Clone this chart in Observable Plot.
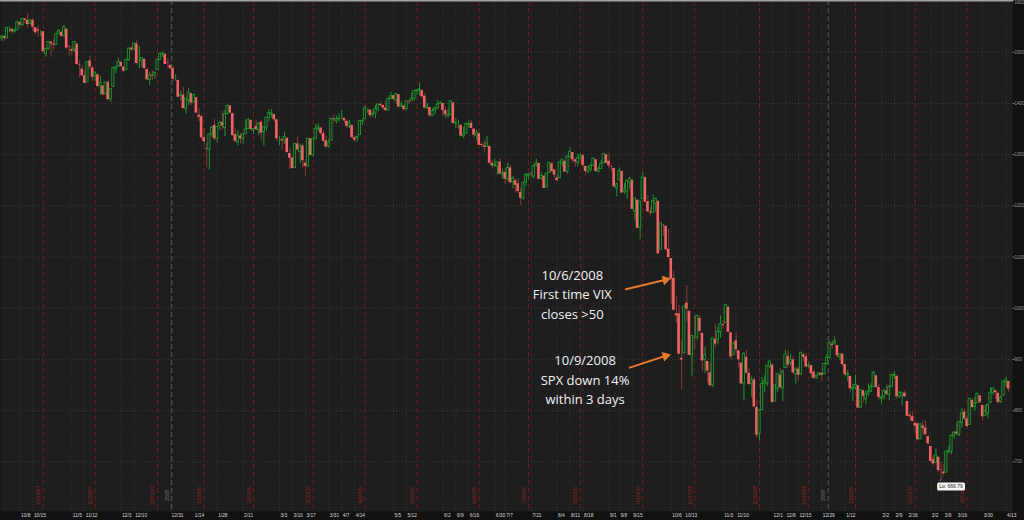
<!DOCTYPE html>
<html><head><meta charset="utf-8">
<script src="https://cdn.jsdelivr.net/npm/d3@7"></script>
<script src="https://cdn.jsdelivr.net/npm/@observablehq/plot@0.6"></script>
<style>
html,body{margin:0;padding:0;background:#111;}
#chart{width:1024px;height:520px;overflow:hidden;}
</style>
</head><body><div id="chart"></div>
<script>
// ---------- DATA (S&P 500 daily candles, [open, high, low, close]) ----------
const firstDay = "2007-09-27";
const holidays = ["2007-11-22","2007-12-25","2008-01-01","2008-01-21","2008-02-18","2008-03-21","2008-05-26","2008-07-04","2008-09-01","2008-11-27","2008-12-25","2009-01-01","2009-01-19","2009-02-16","2009-04-10"];

const q4_2007 = [
[1527,1532,1521,1531],[1531,1533,1521,1527],
[1527,1549,1527,1547],[1547,1549,1538,1547],[1545,1545,1534,1540],[1540,1545,1537,1543],[1543,1561,1543,1558],
[1558,1558,1547,1553],[1553,1565,1551,1565],[1565,1566,1555,1562],[1562,1576,1546,1554],[1555,1563,1554,1562],
[1562,1565,1540,1549],[1548,1548,1534,1538],[1544,1551,1529,1541],[1540,1542,1531,1540],[1540,1540,1500,1501],
[1497,1508,1490,1506],[1506,1520,1504,1520],[1520,1520,1490,1516],[1516,1524,1503,1514],[1514,1535,1514,1535],
[1536,1544,1536,1541],[1539,1539,1529,1531],[1532,1553,1529,1549],
[1545,1545,1506,1508],[1511,1513,1492,1510],
[1505,1510,1495,1502],[1505,1521,1499,1520],[1516,1516,1475,1476],[1476,1483,1450,1475],[1467,1474,1453,1454],
[1454,1465,1439,1439],[1441,1481,1441,1481],[1483,1492,1466,1471],[1469,1473,1443,1451],[1453,1462,1443,1459],
[1456,1456,1430,1433],[1434,1453,1416,1440],[1434,1434,1415,1417],[1418,1441,1418,1441],
[1441,1446,1407,1407],[1409,1429,1402,1428],[1432,1471,1432,1469],[1467,1473,1458,1470],[1472,1488,1470,1481],
[1480,1482,1469,1472],[1471,1471,1460,1463],[1465,1486,1465,1485],[1485,1508,1482,1507],[1508,1510,1501,1505],
[1505,1518,1504,1516],[1516,1523,1475,1478],[1487,1511,1468,1487],[1483,1489,1470,1488],[1486,1486,1467,1468],
[1466,1468,1445,1446],[1446,1461,1435,1455],[1455,1464,1445,1453],[1456,1461,1447,1460],[1465,1485,1465,1485],
[1485,1497,1485,1496],[1495,1499,1489,1498],[1496,1496,1476,1476],[1480,1488,1469,1479],
[1474,1475,1466,1468]
];
const q1_2008 = [
[1468,1472,1442,1447],[1447,1456,1444,1447],[1445,1445,1411,1412],
[1415,1424,1405,1416],[1416,1431,1389,1390],[1390,1409,1379,1409],[1406,1429,1396,1420],[1419,1419,1395,1401],
[1402,1418,1402,1416],[1411,1411,1381,1381],[1377,1391,1364,1373],[1374,1378,1330,1333],[1333,1351,1319,1325],
[1312,1322,1274,1311],[1310,1339,1270,1339],[1340,1355,1334,1352],[1357,1369,1327,1331],
[1331,1354,1322,1354],[1356,1365,1347,1362],[1363,1385,1348,1356],[1352,1386,1335,1379],
[1379,1397,1378,1395],
[1395,1396,1380,1381],[1380,1381,1336,1337],[1339,1352,1324,1326],[1324,1347,1317,1337],[1336,1341,1321,1331],
[1331,1341,1320,1339],[1340,1368,1339,1349],[1350,1371,1350,1367],[1367,1368,1347,1349],[1347,1351,1339,1350],
[1355,1368,1347,1349],[1348,1363,1337,1360],[1363,1367,1327,1342],[1344,1354,1316,1353],
[1353,1372,1346,1372],[1372,1388,1364,1381],[1378,1388,1371,1380],[1378,1378,1363,1368],[1368,1368,1326,1331],
[1331,1335,1317,1331],[1329,1331,1309,1327],[1327,1344,1320,1334],[1332,1332,1303,1304],[1302,1313,1271,1293],
[1293,1295,1272,1273],[1274,1321,1274,1321],[1321,1334,1307,1309],[1305,1321,1282,1316],[1317,1321,1274,1288],
[1283,1287,1257,1277],[1277,1331,1277,1331],[1331,1331,1298,1298],[1299,1330,1295,1330],
[1330,1359,1330,1350],[1350,1360,1345,1353],[1352,1352,1337,1341],[1341,1346,1324,1326],[1327,1336,1312,1315],
[1316,1329,1312,1323]
];
const q2_2008 = [
[1327,1370,1327,1370],[1370,1378,1361,1368],[1366,1375,1360,1369],[1369,1380,1363,1370],
[1373,1386,1369,1373],[1371,1371,1360,1366],[1365,1368,1350,1355],[1355,1367,1351,1361],[1357,1357,1331,1333],
[1333,1335,1324,1328],[1332,1337,1324,1334],[1338,1365,1338,1365],[1365,1369,1357,1366],[1369,1395,1369,1390],
[1388,1389,1381,1388],[1387,1387,1372,1376],[1378,1387,1372,1380],[1380,1396,1370,1389],[1388,1399,1383,1398],
[1398,1403,1394,1396],[1396,1397,1386,1391],[1391,1404,1384,1386],
[1386,1410,1386,1409],[1409,1422,1407,1414],
[1415,1415,1405,1408],[1406,1420,1398,1418],[1417,1417,1391,1393],[1394,1403,1392,1398],[1395,1396,1384,1388],
[1389,1405,1386,1404],[1404,1407,1397,1403],[1405,1420,1405,1409],[1409,1424,1405,1424],[1424,1426,1415,1425],
[1425,1440,1415,1427],[1425,1425,1409,1413],[1414,1420,1388,1391],[1391,1400,1387,1394],[1392,1392,1373,1376],
[1376,1389,1374,1385],[1387,1392,1378,1391],[1390,1406,1388,1398],[1399,1404,1398,1400],
[1400,1400,1375,1386],[1386,1393,1371,1378],[1376,1388,1371,1377],[1377,1405,1377,1404],[1401,1401,1360,1361],
[1361,1370,1351,1362],[1358,1367,1350,1358],[1357,1358,1334,1336],[1336,1353,1331,1340],[1341,1362,1341,1360],
[1358,1366,1351,1360],[1361,1366,1350,1351],[1350,1350,1333,1338],[1337,1348,1327,1343],[1341,1341,1317,1318],
[1320,1323,1316,1318],[1317,1327,1304,1314],[1315,1336,1315,1322],[1316,1316,1283,1283],[1283,1289,1272,1278],
[1278,1291,1275,1280]
];
const q3_2008 = [
[1276,1285,1260,1285],[1285,1292,1261,1262],[1262,1272,1252,1263],
[1265,1273,1241,1252],[1252,1283,1248,1274],[1274,1278,1244,1245],[1246,1257,1233,1253],[1249,1253,1225,1240],
[1243,1253,1225,1228],[1226,1234,1200,1215],[1215,1246,1211,1245],[1246,1263,1237,1260],[1258,1263,1251,1261],
[1262,1267,1256,1261],[1257,1280,1252,1277],[1278,1291,1276,1282],[1283,1283,1251,1252],[1253,1264,1250,1258],
[1258,1260,1234,1234],[1236,1263,1236,1263],[1264,1284,1263,1284],[1282,1285,1265,1267],
[1270,1270,1254,1260],
[1254,1260,1247,1249],[1254,1285,1254,1285],[1283,1292,1276,1289],[1287,1287,1265,1266],[1267,1297,1262,1296],
[1295,1313,1293,1305],[1304,1304,1285,1290],[1290,1292,1275,1286],[1284,1301,1276,1293],[1292,1302,1290,1298],
[1298,1300,1274,1279],[1277,1277,1260,1267],[1267,1277,1263,1275],[1271,1281,1266,1278],[1278,1294,1278,1292],
[1290,1290,1265,1267],[1267,1276,1264,1272],[1272,1289,1271,1282],[1283,1300,1283,1301],[1300,1300,1282,1283],
[1287,1303,1272,1278],[1276,1280,1266,1275],[1273,1273,1236,1237],[1234,1245,1217,1242],
[1250,1274,1247,1268],[1267,1268,1224,1225],[1227,1244,1222,1232],[1229,1249,1213,1249],[1245,1256,1233,1252],
[1250,1250,1193,1193],[1189,1214,1170,1214],[1211,1211,1156,1156],[1157,1211,1134,1207],[1213,1265,1213,1255],
[1255,1256,1207,1207],[1208,1220,1188,1188],[1188,1197,1180,1186],[1186,1221,1186,1209],[1204,1216,1187,1213],
[1209,1209,1106,1106],[1114,1166,1114,1166]
];
const q4_2008 = [
[1162,1164,1140,1161],[1160,1161,1112,1114],[1115,1154,1098,1099],
[1097,1097,1008,1057],[1058,1072,996,996],[989,1022,970,985],[989,1006,910,910],[902,936,840,899],
[912,1006,912,1003],[1010,1044,973,998],[994,994,907,908],[909,947,866,946],[942,984,918,941],
[943,986,937,985],[980,985,952,955],[951,951,876,897],[899,923,872,908],[896,896,853,877],
[874,893,846,849],[849,941,845,941],[939,969,922,930],[939,964,928,954],[953,985,941,969],
[968,976,959,966],[971,1007,971,1006],[1002,1003,952,953],[952,952,900,905],[908,932,908,931],
[936,952,911,919],[917,917,883,899],[893,893,852,852],[853,913,819,911],[904,917,872,873],
[873,882,849,851],[853,866,826,859],[860,865,806,807],[806,821,747,752],[755,801,741,800],
[801,865,801,852],[853,868,835,857],[853,888,847,888],[886,896,882,896],
[889,889,815,816],[818,850,818,849],[843,873,836,871],[869,882,841,845],[844,879,818,876],
[883,918,883,910],[906,917,883,889],[893,910,887,899],[899,905,871,874],[871,884,852,880],
[881,885,858,869],[871,914,869,913],[909,912,895,904],[905,912,884,885],[887,894,882,888],
[888,888,864,872],[875,880,860,863],[864,869,861,868],[870,873,867,873],
[873,874,857,869],[871,891,870,891],[891,910,889,903]
];
const q1_2009 = [
[903,935,900,932],
[930,936,920,927],[931,944,927,935],[927,927,902,907],[905,911,897,910],[910,912,887,890],
[890,890,865,870],[869,878,857,872],[867,867,836,843],[842,852,818,844],[845,869,840,850],
[849,849,805,805],[806,841,804,840],[839,839,815,828],[822,839,811,832],
[833,852,828,837],[837,852,835,846],[846,877,846,874],[868,868,844,845],[845,851,821,826],
[823,830,812,825],[826,842,821,838],[838,851,829,832],[831,850,819,846],[846,871,845,869],
[868,876,861,870],[867,869,822,827],[827,838,823,834],[829,835,809,835],[834,839,826,827],
[818,818,789,789],[791,797,781,788],[788,797,777,779],[775,779,754,770],
[774,777,743,743],[744,775,744,773],[770,780,752,765],[766,780,751,753],[749,752,734,735],
[730,730,700,701],[704,712,692,696],[698,725,698,713],[709,709,680,683],[684,699,666.79,683],
[680,695,672,677],[679,720,679,720],[719,731,715,721],[720,752,714,751],[751,759,744,757],
[758,775,752,754],[753,778,749,778],[776,804,766,794],[797,803,781,784],[784,788,766,769],
[772,823,772,823],[820,823,805,806],[807,826,799,814],[815,833,815,833],[829,829,814,816],
[810,810,780,788],[790,810,790,798]
];
const q2_2009 = [
[794,813,784,811],[815,845,815,834],[835,843,830,843],
[839,839,822,835],[834,834,813,816],[817,829,814,825],[829,857,829,857],
[855,865,846,859],[857,857,836,842]
];

const yTicks = [700,800,900,1000,1100,1200,1300,1400,1500];
const yTopTick = [1600];
const tickDates = ["2007-10-08","2007-10-15","2007-11-05","2007-11-12","2007-12-03","2007-12-10","2007-12-31","2008-01-14","2008-01-28","2008-02-11","2008-03-03","2008-03-10","2008-03-17","2008-03-31","2008-04-07","2008-04-14","2008-05-05","2008-05-12","2008-06-02","2008-06-09","2008-06-16","2008-06-30","2008-07-07","2008-07-21","2008-08-04","2008-08-11","2008-08-18","2008-09-01","2008-09-08","2008-09-15","2008-10-06","2008-10-13","2008-11-03","2008-11-10","2008-12-01","2008-12-08","2008-12-15","2008-12-29","2009-01-12","2009-02-02","2009-02-09","2009-02-16","2009-03-02","2009-03-09","2009-03-16","2009-03-30","2009-04-13"];
const tickLabels = ["10/8","10/15","11/5","11/12","12/3","12/10","12/31","1/14","1/28","2/11","3/3","3/10","3/17","3/31","4/7","4/14","5/5","5/12","6/2","6/9","6/16","6/30","7/7","7/21","8/4","8/11","8/18","9/1","9/8","9/15","10/6","10/13","11/3","11/10","12/1","12/8","12/15","12/29","1/12","2/2","2/9","2/16","3/2","3/9","3/16","3/30","4/13"];
const expirationDates = ["2007-10-19","2007-11-16","2007-12-21","2008-01-18","2008-02-15","2008-03-20","2008-04-18","2008-05-16","2008-06-20","2008-07-18","2008-08-15","2008-09-19","2008-10-17","2008-11-21","2008-12-19","2009-01-16","2009-02-20","2009-03-20"];
const yearStarts = ["2008-01-01","2009-01-01"];
const yearLabels = ["2008","2009"];
const notes = [
  {date:"2008-10-06", text:"10/6/2008\nFirst time VIX\ncloses >50"},
  {date:"2008-10-09", text:"10/9/2008\nSPX down 14%\nwithin 3 days"}
];

// ---------- BUILD ----------
const ohlc = [].concat(q4_2007, q1_2008, q2_2008, q3_2008, q4_2008, q1_2009, q2_2009);
const days = [];
{
  const d = new Date(firstDay + "T12:00:00Z");
  while (days.length < ohlc.length) {
    const dow = d.getUTCDay(), iso = d.toISOString().slice(0,10);
    if (dow !== 0 && dow !== 6 && !holidays.includes(iso)) days.push(iso);
    d.setUTCDate(d.getUTCDate() + 1);
  }
}
const idxOf = iso => days.findIndex(x => x >= iso);
const data = ohlc.map(([o,h,l,c], i) => ({i, date: days[i], o, h, l, c, up: c >= o}));
const ups = data.filter(d => d.up), downs = data.filter(d => !d.up);
const ticks = tickDates.map((t, k) => ({i: idxOf(t), label: tickLabels[k]}));
const exps = expirationDates.map(t => { const [y,m,dd] = t.split("-"); return {i: idxOf(t), label: `${+m}/${+dd}/${y.slice(2)}`}; });
const years = yearStarts.map((t, k) => ({i: idxOf(t) - 0.5, label: yearLabels[k]}));
const noteRows = notes.map(n => ({...data[idxOf(n.date)], text: n.text}));
const low = data.reduce((a, b) => b.l < a.l ? b : a);

const RED = "#f16262", RED_WICK = "#8a3a3a", GREEN = "#1f952d", BG = "#1e1e1e", ORANGE = "#e9792c";
const hw = 0.5;
const FONT = "Liberation Sans, Arial, sans-serif";

const chart = Plot.plot({
  width: 1024, height: 520,
  marginLeft: 0, marginRight: 12, marginTop: 0, marginBottom: 9,
  style: {background: "#111", color: "#9a9a9a", fontFamily: FONT, fontSize: "4.6px"},
  x: {domain: [-0.5, data.length + 0.5], axis: null},
  y: {domain: [603, 1601], axis: "right", ticks: yTicks, tickFormat: d => String(d), tickSize: 1.5, tickPadding: 0.5, label: null},
  marks: [
    Plot.frame({fill: BG}),
    Plot.ruleY(yTicks.concat(yTopTick), {stroke: "#3a3a3a", strokeDasharray: "1,2"}),
    Plot.ruleX(ticks, {x: "i", stroke: "#363636", strokeDasharray: "1,2"}),
    Plot.ruleX(exps, {x: "i", stroke: "#6a1d1d", strokeDasharray: "5,3"}),
    Plot.ruleX(years, {x: "i", stroke: "#5a5a5a", strokeDasharray: "5,3"}),
    Plot.text(exps, {x: "i", frameAnchor: "bottom", dx: -3, dy: -16, rotate: -90, text: "label", fill: "#8e2626", fontSize: 5}),
    Plot.text(years, {x: "i", frameAnchor: "bottom", dx: -3, dy: -16, rotate: -90, text: "label", fill: "#777", fontSize: 5}),
    Plot.ruleX(data, {x: "i", y1: "l", y2: "h", stroke: d => d.up ? GREEN : RED_WICK, strokeWidth: 1}),
    Plot.rect(downs, {x1: d => d.i - hw, x2: d => d.i + hw, y1: "o", y2: "c", fill: RED}),
    Plot.rect(ups, {x1: d => d.i - hw * 0.85, x2: d => d.i + hw * 0.85, y1: "o", y2: "c", fill: BG, stroke: GREEN, strokeWidth: 0.9}),
    Plot.text(ticks, {x: "i", frameAnchor: "bottom", dx: 1, dy: 5, textAnchor: "start", text: "label", fill: "#d8d8d8", fontSize: 4.8}),
    Plot.text(yTopTick, {y: d => d, frameAnchor: "right", dx: 2, textAnchor: "start", lineAnchor: "top", text: d => String(d), fill: "#9a9a9a", fontSize: 4.6}),
    Plot.frame({anchor: "top", stroke: "#a0a0a0", strokeWidth: 2}),
    Plot.text(noteRows.slice(0,1), {x: "i", y: "c", dx: -99, dy: 14, text: "text", lineHeight: 1.5, fill: "#f2f2f2", fontSize: 13, fontFamily: "Open Sans, sans-serif"}),
    Plot.text(noteRows.slice(1), {x: "i", y: "c", dx: -94, dy: 24, text: "text", lineHeight: 1.5, fill: "#f2f2f2", fontSize: 13, fontFamily: "Open Sans, sans-serif"}),
    Plot.arrow(noteRows.slice(0,1), {x1: d => d.i - 17.5, y1: d => d.c - 20, x2: d => d.i - 2.5, y2: d => d.c - 1.8, stroke: ORANGE, strokeWidth: 2, headLength: 0}),
    Plot.dot(noteRows.slice(0,1), {x: d => d.i - 2.2, y: d => d.c - 1.6, symbol: "triangle", r: 3.6, fill: ORANGE, rotate: 76}),
    Plot.arrow(noteRows.slice(1), {x1: d => d.i - 19, y1: d => d.c - 26, x2: d => d.i - 5.5, y2: d => d.c - 3.5, stroke: ORANGE, strokeWidth: 2, headLength: 0}),
    Plot.dot(noteRows.slice(1), {x: d => d.i - 5.2, y: d => d.c - 3.2, symbol: "triangle", r: 3.6, fill: ORANGE, rotate: 74}),
    Plot.link([low], {x1: "i", y1: "l", x2: d => d.i - 0.3, y2: d => d.l - 4, stroke: "#bbb", strokeWidth: 0.6}),
    Plot.text([low], {x: "i", y: "l", dx: -2, dy: 8, textAnchor: "start", text: d => "Lo: " + d.l, fill: "#222", fontSize: 5, className: "lolabel"})
  ]
});
document.getElementById("chart").appendChild(chart);

// white box behind the low label
const loText = chart.querySelector(".lolabel text");
if (loText) {
  const bb = loText.getBBox();
  const r = document.createElementNS("http://www.w3.org/2000/svg", "rect");
  r.setAttribute("x", bb.x - 2); r.setAttribute("y", bb.y - 1);
  r.setAttribute("width", bb.width + 4); r.setAttribute("height", bb.height + 2);
  r.setAttribute("rx", 1.5); r.setAttribute("fill", "#f4f4f4");
  const tf = loText.getAttribute("transform");
  if (tf) r.setAttribute("transform", tf);
  loText.parentNode.insertBefore(r, loText);
}
</script>
</body></html>
